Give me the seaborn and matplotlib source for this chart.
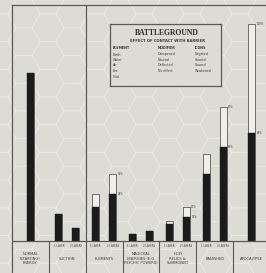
#!/usr/bin/env python3
# Battleground chart: effect of contact with barrier
import numpy as np
import pandas as pd
import matplotlib
matplotlib.use("Agg")
import matplotlib.pyplot as plt
from matplotlib.patches import RegularPolygon
import seaborn as sns

# Data (normal energy = 100)
panels = ["NORMAL\n(STARTING)\nENERGY", "SUCTION", "ELEMENTS",
          "MAGICKAL\nENERGIES (E.G.\nPSYCHIC POWERS)", "HOLY\nRELICS &\nSUMMONED",
          "BANISHED", "APOCALYPSE"]
bar_panel = [0, 1, 1, 2, 2, 3, 3, 4, 4, 5, 5, 6]
bar_side = [0, -1, 1, -1, 1, -1, 1, -1, 1, -1, 1, 0]
bar_tags = ["", "1 LAYER", "2 LAYERS", "1 LAYER", "2 LAYERS", "1 LAYER", "2 LAYERS",
            "1 LAYER", "2 LAYERS", "1 LAYER", "2 LAYERS", ""]
base_vals = [100, 16, 8, 20, 28, 4, 6, 10, 14, 40, 56, 64]
peak_vals = [100, 16, 8, 28, 40, 4, 6, 12, 20, 52, 80, 129]
labelled = [False, False, False, False, True, False, False, False, True, False, True, True]

legend_elements = ["Earth", "Water", "Air", "Fire", "Void"]
legend_modifiers = ["Dampened", "Neutral", "Deflected", "No effect"]
legend_icons = ["Negated", "Slowed", "Slowed", "Weakened"]

bg = "#dcdbd4"
ink = "#3c3c3c"
line_c = "#5a5a5a"

df = pd.DataFrame({
    "pos": np.array(bar_panel) + 0.23 * np.array(bar_side),
    "base": base_vals,
    "peak": peak_vals,
    "tag": bar_tags,
    "labelled": labelled,
})

W, H = 266, 273
fig = plt.figure(figsize=(W / 100, H / 100), dpi=100, facecolor=bg)

# faint hexagon texture in the background
bgax = fig.add_axes([0, 0, 1, 1], zorder=0)
bgax.set_xlim(0, W)
bgax.set_ylim(H, 0)
bgax.axis("off")
r = 16
for i in range(-1, 12):
    for j in range(-1, 12):
        cx = i * r * 1.5
        cy = j * r * np.sqrt(3) + (i % 2) * r * np.sqrt(3) / 2
        bgax.add_patch(RegularPolygon((cx, cy), 6, radius=r, orientation=np.pi / 6,
                                      fill=False, ec="white", lw=0.8, alpha=0.22))

# main chart
px_per_unit = 1.68
ax = fig.add_axes([12 / W, 0, 258 / W, (H - 5) / H], zorder=1)
ax.set_facecolor("none")
sns.barplot(data=df, x="pos", y="peak", native_scale=True, width=0.41,
            color="#efeee9", saturation=1, edgecolor=line_c, linewidth=0.6,
            errorbar=None, ax=ax)
sns.barplot(data=df, x="pos", y="base", native_scale=True, width=0.41,
            color="#1b1b1b", saturation=1, edgecolor="#1b1b1b", linewidth=0.3,
            errorbar=None, ax=ax)
ax.set_xlim(-0.5, 6.5)
ax.set_ylim(-(H - 241) / px_per_unit, (241 - 5) / px_per_unit)
ax.set_xticks([])
ax.set_yticks([])
ax.set_xlabel("")
ax.set_ylabel("")
for s in ["bottom", "right"]:
    ax.spines[s].set_visible(False)
for s in ["left", "top"]:
    ax.spines[s].set_color(line_c)
    ax.spines[s].set_linewidth(0.9)

ylow = ax.get_ylim()[0]
ax.axhline(0, color=line_c, lw=0.9)
ax.vlines(np.arange(len(panels) - 1) + 0.5, ylow, 0, color=line_c, lw=0.8)
ax.vlines([1.5], 0, ax.get_ylim()[1], color=line_c, lw=0.9)

half_w = 0.41 * 0.46 / 2
for _, row in df.iterrows():
    if row["tag"]:
        ax.text(row["pos"], -3, row["tag"], ha="center", va="center",
                fontsize=1.9, color=ink)
    if row["labelled"]:
        ax.text(row["pos"] + half_w + 0.04, row["peak"], f"{row['peak']}%",
                ha="left", va="center", fontsize=1.9, color=ink)
        ax.text(row["pos"] + half_w + 0.04, row["base"], f"{row['base']}%",
                ha="left", va="center", fontsize=1.9, color=ink)

for k, name in enumerate(panels):
    ax.text(k, -10.5, name, ha="center", va="center", fontsize=2.6, color=ink,
            linespacing=1.25)

# legend box
lx0, ly0, lx1, ly1 = 110, 24, 221, 86
lg = fig.add_axes([lx0 / W, 1 - ly1 / H, (lx1 - lx0) / W, (ly1 - ly0) / H], zorder=2)
lg.set_facecolor(bg)
lg.set_xticks([])
lg.set_yticks([])
for s in lg.spines.values():
    s.set_color(line_c)
    s.set_linewidth(0.9)


def fx(px):
    return (px - lx0) / (lx1 - lx0)


def fy(py):
    return (ly1 - py) / (ly1 - ly0)


lg.text(fx(167), fy(33), "BATTLEGROUND", ha="center", va="center",
        fontsize=5.5, fontweight="bold", family="Liberation Serif", color="#2a2a2a")
lg.text(fx(167), fy(40.5), "EFFECT OF CONTACT WITH BARRIER", ha="center", va="center",
        fontsize=2.7, fontweight="bold", color=ink)
cols = [(113, "ELEMENT", legend_elements), (158, "MODIFIER", legend_modifiers),
        (195, "ICONS", legend_icons)]
row_y = [54.5, 60, 65.5, 71, 76.5]
for cx, head, items in cols:
    lg.text(fx(cx), fy(48), head, ha="left", va="center", fontsize=2.4,
            fontweight="bold", color=ink)
    for yy, it in zip(row_y, items):
        lg.text(fx(cx), fy(yy), it, ha="left", va="center", fontsize=2.3, color=ink)

fig.savefig("out.png", dpi=100, facecolor=bg)
